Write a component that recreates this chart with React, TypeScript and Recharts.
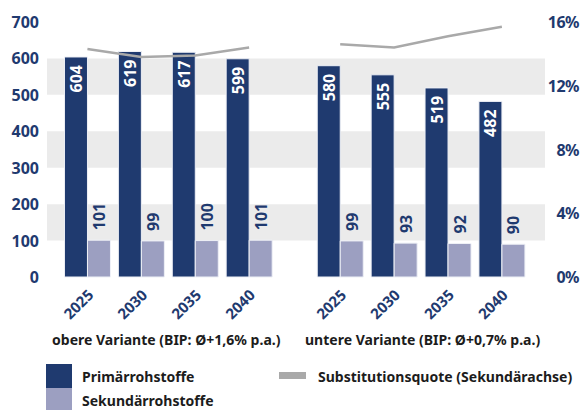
import React from "react";
import {
  ComposedChart,
  Bar,
  Line,
  XAxis,
  YAxis,
  ReferenceArea,
  LabelList,
} from "recharts";

// Scenario groups and years
const groups = ["obere Variante (BIP: Ø+1,6% p.a.)", "untere Variante (BIP: Ø+0,7% p.a.)"];
const years = ["2025", "2030", "2035", "2040"];

// Raw material use per scenario (Mio. t)
const primaryUpper = [604, 619, 617, 599];
const secondaryUpper = [101, 99, 100, 101];
const primaryLower = [580, 555, 519, 482];
const secondaryLower = [99, 93, 92, 90];

// Substitution rate, percent
const quoteUpper = [14.3, 13.8, 13.9, 14.4];
const quoteLower = [14.6, 14.4, 15.1, 15.7];

const leftTicks = [0, 100, 200, 300, 400, 500, 600, 700];
const rightTicks = [0, 4, 8, 12, 16];
const bands: [number, number][] = [
  [100, 200],
  [300, 400],
  [500, 600],
];

const NAVY = "#1f3a6f";
const LIGHT = "#9c9fc1";
const LINE = "#a9a9a9";
const BAND = "#ebebeb";
const TEXT = "#1c1c1c";
const FONT = "'Noto Sans', 'DejaVu Sans', sans-serif";

// Second scenario block is shifted right along the numeric x axis, leaving a gap
const GROUP_SHIFT = 4.69;

type Row = {
  pos: number;
  year: string;
  primary: number;
  secondary: number;
  quoteA: number | null;
  quoteB: number | null;
};

const data: Row[] = [
  ...years.map((y, i) => ({
    pos: i,
    year: y,
    primary: primaryUpper[i],
    secondary: secondaryUpper[i],
    quoteA: quoteUpper[i],
    quoteB: null,
  })),
  ...years.map((y, i) => ({
    pos: GROUP_SHIFT + i,
    year: y,
    primary: primaryLower[i],
    secondary: secondaryLower[i],
    quoteA: null,
    quoteB: quoteLower[i],
  })),
];

const yearByPos = new Map(data.map((d) => [d.pos, d.year]));

const YearTick = (props: any) => {
  const { x, y, payload } = props;
  const tx = x - 2;
  const ty = y + 2;
  return (
    <text
      x={tx}
      y={ty}
      textAnchor="end"
      dominantBaseline="hanging"
      transform={`rotate(-45 ${tx} ${ty})`}
      fill={NAVY}
      fontFamily={FONT}
      fontWeight="bold"
      fontSize={15}
    >
      {yearByPos.get(payload.value)}
    </text>
  );
};

const LeftTick = (props: any) => {
  const { y, payload } = props;
  return (
    <text
      x={39}
      y={y}
      textAnchor="end"
      dominantBaseline="central"
      fill={NAVY}
      fontFamily={FONT}
      fontWeight="bold"
      fontSize={16}
    >
      {payload.value}
    </text>
  );
};

const RightTick = (props: any) => {
  const { y, payload } = props;
  return (
    <text
      x={579}
      y={y}
      textAnchor="end"
      dominantBaseline="central"
      fill={NAVY}
      fontFamily={FONT}
      fontWeight="bold"
      fontSize={16}
      letterSpacing={-0.5}
    >
      {payload.value}%
    </text>
  );
};

const InsideLabel = (props: any) => {
  const { x, y, width, value } = props;
  const cx = x + width / 2;
  const ty = y + 8;
  return (
    <text
      x={cx}
      y={ty}
      textAnchor="end"
      dominantBaseline="central"
      transform={`rotate(-90 ${cx} ${ty})`}
      fill="#ffffff"
      fontFamily={FONT}
      fontWeight="bold"
      fontSize={16}
    >
      {value}
    </text>
  );
};

const AboveLabel = (props: any) => {
  const { x, y, width, value } = props;
  const cx = x + width / 2;
  const ty = y - 10;
  return (
    <text
      x={cx}
      y={ty}
      textAnchor="start"
      dominantBaseline="central"
      transform={`rotate(-90 ${cx} ${ty})`}
      fill={NAVY}
      fontFamily={FONT}
      fontWeight="bold"
      fontSize={16}
    >
      {value}
    </text>
  );
};

// HTML captions, narrowed horizontally to the condensed look of the labels
const legendText: React.CSSProperties = {
  position: "absolute",
  fontFamily: FONT,
  fontWeight: "bold",
  fontSize: 15,
  color: TEXT,
  whiteSpace: "nowrap",
  lineHeight: "18px",
  transformOrigin: "0 50%",
  transform: "scaleX(0.935)",
};

export default function App() {
  return (
    <div style={{ position: "absolute", left: 0, top: 0, width: 586, height: 410, background: "#fff", overflow: "hidden" }}>
      <ComposedChart
        width={586}
        height={410}
        data={data}
        margin={{ top: 22, right: 0, bottom: 0, left: 0 }}
        barGap={0}
      >
        <XAxis
          dataKey="pos"
          type="number"
          domain={[-0.75, 8.49]}
          ticks={data.map((d) => d.pos)}
          interval={0}
          axisLine={false}
          tickLine={false}
          tick={<YearTick />}
          height={133}
        />
        <YAxis
          yAxisId="left"
          domain={[0, 700]}
          ticks={leftTicks}
          axisLine={false}
          tickLine={false}
          width={47}
          tick={<LeftTick />}
        />
        <YAxis
          yAxisId="right"
          orientation="right"
          domain={[0, 16]}
          ticks={rightTicks}
          axisLine={false}
          tickLine={false}
          width={41}
          tick={<RightTick />}
        />
        {bands.map(([a, b]) => (
          <ReferenceArea
            key={a}
            yAxisId="left"
            y1={a}
            y2={b}
            fill={BAND}
            fillOpacity={1}
            stroke="none"
            ifOverflow="visible"
          />
        ))}
        <Bar
          yAxisId="left"
          dataKey="primary"
          name="Primärrohstoffe"
          fill={NAVY}
          stroke="#eef0f6"
          strokeWidth={1}
          barSize={23}
          isAnimationActive={false}
        >
          <LabelList dataKey="primary" content={<InsideLabel />} />
        </Bar>
        <Bar
          yAxisId="left"
          dataKey="secondary"
          name="Sekundärrohstoffe"
          fill={LIGHT}
          stroke="#eef0f6"
          strokeWidth={1}
          barSize={23}
          isAnimationActive={false}
        >
          <LabelList dataKey="secondary" content={<AboveLabel />} />
        </Bar>
        <Line
          yAxisId="right"
          dataKey="quoteA"
          name="Substitutionsquote (Sekundärachse)"
          stroke={LINE}
          strokeWidth={2.5}
          dot={false}
          connectNulls={false}
          isAnimationActive={false}
        />
        <Line
          yAxisId="right"
          dataKey="quoteB"
          name="Substitutionsquote (Sekundärachse)"
          stroke={LINE}
          strokeWidth={2.5}
          dot={false}
          connectNulls={false}
          isAnimationActive={false}
        />
      </ComposedChart>

      {/* scenario captions */}
      <div style={{ ...legendText, left: 52, top: 330 }}>{groups[0]}</div>
      <div style={{ ...legendText, left: 305, top: 330 }}>{groups[1]}</div>

      {/* legend */}
      <div style={{ position: "absolute", left: 46, top: 364, width: 26, height: 24, background: NAVY }} />
      <div style={{ position: "absolute", left: 46, top: 388, width: 26, height: 22, background: LIGHT }} />
      <div style={{ ...legendText, left: 82, top: 367 }}>Primärrohstoffe</div>
      <div style={{ ...legendText, left: 82, top: 391 }}>Sekundärrohstoffe</div>
      <div style={{ position: "absolute", left: 279, top: 372, width: 27, height: 7, background: LINE }} />
      <div style={{ ...legendText, left: 318, top: 367 }}>Substitutionsquote (Sekundärachse)</div>
    </div>
  );
}
